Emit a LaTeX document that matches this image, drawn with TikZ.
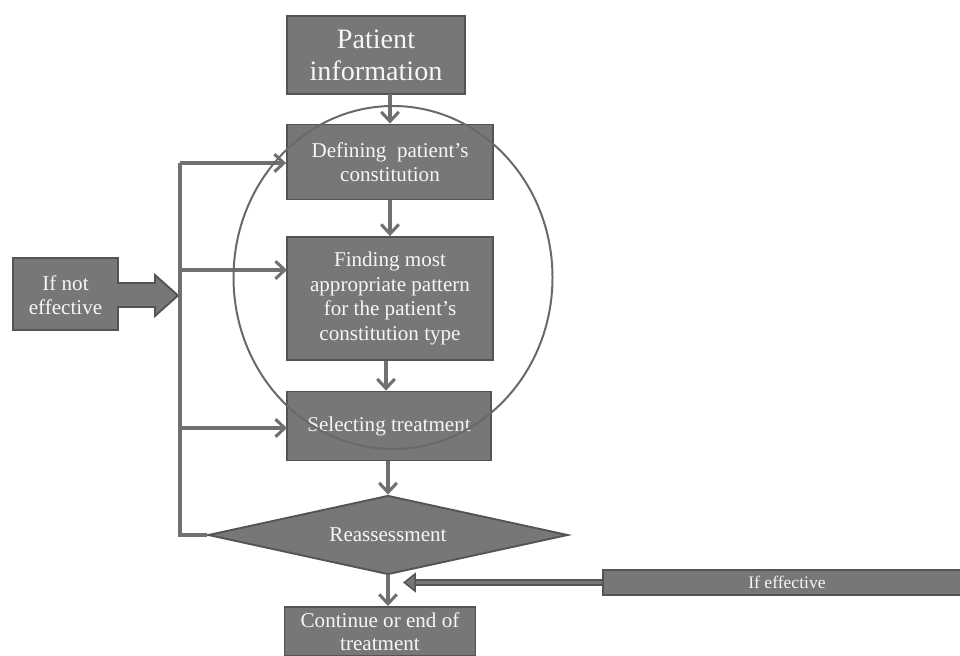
\documentclass[tikz,border=0pt]{standalone}
\usepackage{fontspec}
\setmainfont{Liberation Serif}
\usetikzlibrary{shapes.geometric,arrows.meta}
\definecolor{boxfill}{RGB}{119,119,119}
\definecolor{boxline}{RGB}{84,84,84}
\definecolor{flowcol}{RGB}{112,112,112}
\definecolor{ringcol}{RGB}{105,105,105}
\definecolor{boxtext}{RGB}{246,246,246}

\begin{document}
\begin{tikzpicture}[
  x=0.03cm, y=-0.03cm,
  procbox/.style={                          % process step: grey box
    draw=boxline, line width=1.6pt, fill=boxfill, text=boxtext,
    rectangle, align=center, inner sep=2pt,
    font=\fontsize{18}{21}\selectfont
  },
  decision/.style={                         % reassessment: grey diamond
    draw=boxline, line width=1.6pt, fill=boxfill, text=boxtext,
    diamond, aspect=4.5, inner sep=0pt,
    minimum width=10.8cm, minimum height=2.37cm,
    font=\fontsize{18}{21}\selectfont
  },
  flowline/.style={draw=flowcol, line width=2.6pt},
  flowarrow/.style={flowline, -{Straight Barb[length=8pt,width=15pt,line width=2.6pt]}},
  ring/.style={draw=ringcol, line width=1.7pt},
]

\useasboundingbox (0,0) rectangle (960,656);
\clip (0,0) rectangle (960,656);

% ---- Main column of steps ----
\node (pinfo) at (376,55)  [procbox, minimum width=5.34cm, minimum height=2.34cm,
                            font=\fontsize{24}{27.5}\selectfont] {Patient\\information};
\node (def)   at (390,162) [procbox, minimum width=6.18cm, minimum height=2.25cm]
                           {Defining\ \ patient's\\constitution};
\node (find)  at (390,298.5) [procbox, minimum width=6.18cm, minimum height=3.69cm]
                           {Finding most\\appropriate pattern\\for the patient's\\constitution type};
\node (sel)   at (389,426) [procbox, minimum width=6.12cm, minimum height=2.07cm]
                           {Selecting treatment};
\node (reas)  at (388,535) [decision] {Reassessment};
\node (cont)  at (380,606) [procbox, anchor=north, minimum width=5.73cm,
                            inner ysep=4.5pt, font=\fontsize{18}{20}\selectfont]
                           {Continue or end of\\treatment};

% ---- Side notes ----
\fill[boxfill, draw=boxline, line width=1.6pt]
  (13,258) -- (118,258) -- (118,283) -- (155,283) -- (155,275) -- (178,295.5)
  -- (155,316) -- (155,307) -- (118,307) -- (118,330) -- (13,330) -- cycle;
\node (notbox) at (65.5,295) [text=boxtext, align=center,
                              font=\fontsize{18}{21}\selectfont] {If not\\effective};

\node (effbox) at (787,582.5) [procbox, minimum width=11.04cm, minimum height=0.75cm,
                               inner sep=0pt, font=\fontsize{15}{17}\selectfont] {If effective};

% ---- Connectors ----
\coordinate (pin) at (390,94);
\draw[flowarrow] (pin) -- (pin |- def.north);
\draw[flowarrow] (def.south -| 390,0) -- (find.north -| 390,0);
\draw[flowarrow] (find.south -| 386,0) -- (sel.north -| 386,0);
\draw[flowarrow] (sel.south -| 388,0) -- (reas.north);
\draw[flowarrow] (reas.south) -- (cont.north -| reas.south);

% loop back when not effective
\coordinate (lt) at (180,163);
\coordinate (lb) at (lt |- reas.west);
\draw[flowline] (reas.west) -- (lb) -- (lt);
\draw[flowarrow] (lt) -- (lt -| def.west);
\foreach \yy in {270,428}
  \draw[flowarrow] (180,\yy) -- (287,\yy);

% effective: double-line arrow into the last step
\coordinate (effend) at (403,582.5);
\draw[draw=boxline, line width=1.3pt, double=boxfill, double distance=2.6pt,
      -{Triangle[length=11pt,width=17pt,fill=boxfill]}] (effbox.west) -- (effend);

% ---- Ring round the core steps ----
\draw[ring] (393,277.5) ellipse [x radius=159.5, y radius=171.5];

\end{tikzpicture}
\end{document}
